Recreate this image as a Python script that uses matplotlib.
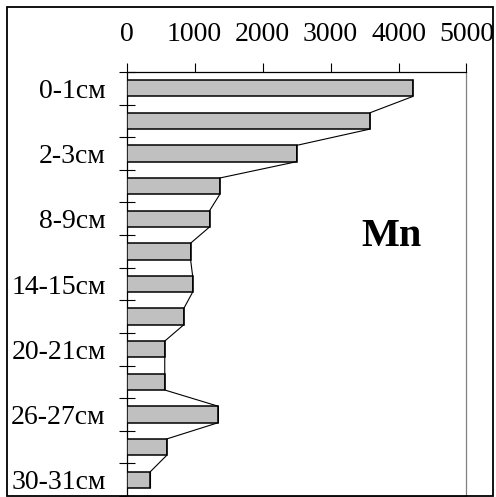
import numpy as np
import matplotlib
matplotlib.use("Agg")
from matplotlib import pyplot as plt
from matplotlib.patches import Rectangle

plt.rcParams['font.family'] = ['Liberation Serif', 'DejaVu Serif']

# datos
depths = ['0-1см', '1-2см', '2-3см', '5-6см', '8-9см', '11-12см', '14-15см',
          '17-18см', '20-21см', '23-24см', '26-27см', '28-29см', '30-31см']
mn = [4210, 3580, 2500, 1370, 1220, 940, 970, 840, 560, 560, 1350, 590, 350]
xticks = [0, 1000, 2000, 3000, 4000, 5000]

W, H = 496, 497
fig = plt.figure(figsize=(W / 100.0, H / 100.0), dpi=100)
ax = fig.add_axes([126.7 / W, 1.0 / H, (466.5 - 126.7) / W, (496 - 72.0) / H])

pos = np.arange(len(mn))
alto = 0.5
ax.barh(pos, mn, height=alto, color='#c0c0c0', edgecolor='black', linewidth=1.1, zorder=3)

# linea que une los extremos de las barras
lx = np.repeat(mn, 2)
ly = np.ravel(np.column_stack([pos - alto / 2, pos + alto / 2]))
ax.plot(lx, ly, color='black', linewidth=0.8, zorder=4)

ax.set_xlim(0, 5000)
ax.set_ylim(len(mn) - 0.5, -0.5)

ax.xaxis.tick_top()
ax.set_xticks(xticks)
ax.set_xticklabels([str(v) for v in xticks], fontsize=20)
ax.tick_params(axis='x', direction='out', length=6.5, width=0.8, pad=11.5, color='black')

ax.set_yticks(pos)
ax.set_yticklabels([d if i % 2 == 0 else '' for i, d in enumerate(depths)], fontsize=20)
ax.tick_params(axis='y', which='major', length=0, pad=15)
ax.set_yticks(np.arange(-0.5, len(mn), 1), minor=True)
ax.tick_params(axis='y', which='minor', direction='inout', length=12, width=0.8)

for s in ['top', 'left']:
    ax.spines[s].set_color('black')
    ax.spines[s].set_linewidth(0.9)
for s in ['right', 'bottom']:
    ax.spines[s].set_color('#808080')
    ax.spines[s].set_linewidth(0.9)

fig.text(391.0 / W, 1 - 236.0 / H, 'Mn', fontsize=29, fontweight='bold',
         ha='center', va='center')

# marco exterior
fig.patches.append(Rectangle((7.0 / W, 1.0 / H), (493 - 7.0) / W, (496 - 7.0) / H,
                             transform=fig.transFigure, fill=False,
                             edgecolor='black', linewidth=1.3))

fig.savefig('out.png', dpi=100)
